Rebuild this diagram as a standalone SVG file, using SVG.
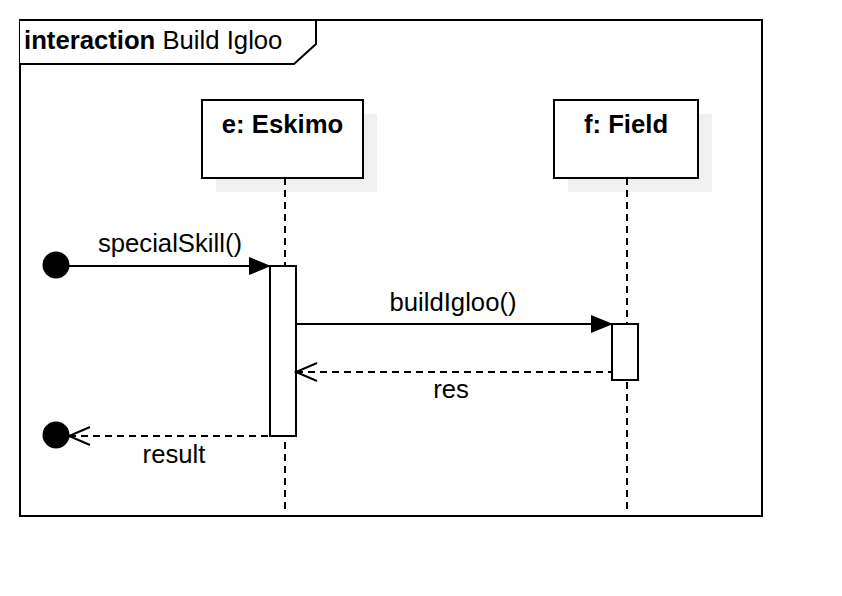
<svg xmlns="http://www.w3.org/2000/svg" width="842" height="596" viewBox="0 0 842 596">
<style>
text{font-family:"Liberation Sans",Arial,sans-serif;font-size:25.7px;fill:#000}
.b{font-weight:bold}
.box{fill:#fff;stroke:#000;stroke-width:2}
.sh{fill:#f0f0f0}
.ll{stroke:#000;stroke-width:2;stroke-dasharray:7 5;fill:none}
.msg{stroke:#000;stroke-width:2;fill:none}
.ret{stroke:#000;stroke-width:2;stroke-dasharray:7 5;fill:none}
.act{fill:#fff;stroke:#000;stroke-width:2}
</style>
<defs>
<marker id="fill" markerWidth="22" markerHeight="18" refX="21" refY="9" orient="auto" markerUnits="userSpaceOnUse"><path d="M0,0 L22,9 L0,18 Z" fill="#000"/></marker>
<marker id="open" markerWidth="24" markerHeight="20" refX="22" refY="10" orient="auto-start-reverse" markerUnits="userSpaceOnUse"><path d="M1,1 L22,10 L1,19" fill="none" stroke="#000" stroke-width="2"/></marker>
</defs>
<rect width="842" height="596" fill="#fff"/>
<g id="frame">
<rect x="20" y="20" width="742" height="496" fill="none" stroke="#000" stroke-width="2"/>
<path d="M20,20 L316,20 L316,44 L294,64 L20,64" fill="#fff" stroke="#000" stroke-width="2"/>
<text x="24" y="49"><tspan class="b">interaction</tspan> Build Igloo</text>
</g>
<g id="eskimo">
<rect class="sh" x="216" y="114" width="161" height="78"/>
<rect class="box" x="202" y="100" width="161" height="78"/>
<text class="b" x="282.5" y="133" text-anchor="middle">e: Eskimo</text>
<line class="ll" x1="285" y1="178" x2="285" y2="512"/>
</g>
<g id="field">
<rect class="sh" x="568" y="114" width="144" height="78"/>
<rect class="box" x="554" y="100" width="144" height="78"/>
<text class="b" x="626" y="133" text-anchor="middle">f: Field</text>
<line class="ll" x1="627" y1="178" x2="627" y2="512"/>
</g>
<g id="activations">
<rect class="act" x="270" y="266" width="26" height="170"/>
<rect class="act" x="612" y="324" width="26" height="56"/>
</g>
<g id="connectors">
<circle cx="56" cy="265" r="13.5" fill="#000"/>
<line class="msg" x1="56" y1="266" x2="270" y2="266" marker-end="url(#fill)"/>
<text x="170" y="252" text-anchor="middle">specialSkill()</text>
<line class="msg" x1="296" y1="324" x2="612" y2="324" marker-end="url(#fill)"/>
<text x="453" y="311" text-anchor="middle">buildIgloo()</text>
<line class="ret" x1="296" y1="372" x2="612" y2="372" marker-start="url(#open)"/>
<text x="451" y="398" text-anchor="middle">res</text>
<circle cx="56" cy="435" r="13.5" fill="#000"/>
<line class="ret" x1="69" y1="436" x2="270" y2="436" marker-start="url(#open)"/>
<text x="174" y="463" text-anchor="middle">result</text>
</g>
</svg>
